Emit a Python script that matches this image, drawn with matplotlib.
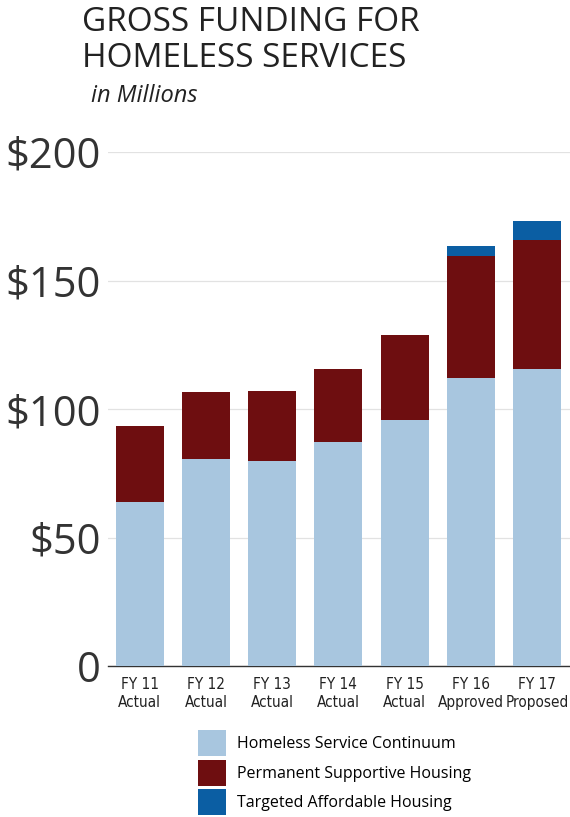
import numpy as np
import matplotlib.pyplot as plt
from matplotlib.patches import Patch

years = ["FY 11\nActual", "FY 12\nActual", "FY 13\nActual", "FY 14\nActual",
         "FY 15\nActual", "FY 16\nApproved", "FY 17\nProposed"]
continuum = [64.0, 80.7, 79.8, 87.3, 95.6, 112.2, 115.6]
supportive = [29.2, 25.8, 27.2, 28.3, 33.2, 47.3, 50.2]
affordable = [0, 0, 0, 0, 0, 4.0, 7.2]
series = ["Homeless Service Continuum", "Permanent Supportive Housing",
          "Targeted Affordable Housing"]
colors = ["#a8c6df", "#6e0e10", "#0b5ea3"]
yticks = [0, 50, 100, 150, 200]
ytick_labels = ["0", "$50", "$100", "$150", "$200"]

main_font = ["Open Sans", "DejaVu Sans"]

fig = plt.figure(figsize=(5.7, 8.17), dpi=100)
ax = fig.add_axes([108 / 570, 1 - 666 / 817, 462 / 570, 514 / 817])

x = np.arange(len(years))
w = 0.725
bottom = np.zeros(len(years))
for vals, c in zip([continuum, supportive, affordable], colors):
    ax.bar(x, vals, w, bottom=bottom, color=c, zorder=3)
    bottom += np.array(vals)

ax.set_xlim(-0.48, 6.5)
ax.set_ylim(0, 200)
ax.set_yticks(yticks)
ax.set_yticklabels(ytick_labels, family=main_font, fontsize=30, color="#333333")
ax.set_xticks(x)
ax.set_xticklabels(years, family="DejaVu Sans", stretch="condensed",
                   fontsize=11, color="#222222", linespacing=1.25)
ax.tick_params(axis="y", length=0, pad=5)
ax.tick_params(axis="x", length=0, pad=8)
ax.grid(axis="y", color="#e2e2e2", linewidth=0.9, zorder=0)
for s in ["top", "right", "left"]:
    ax.spines[s].set_visible(False)
ax.spines["bottom"].set_color("#333333")
ax.spines["bottom"].set_linewidth(1.0)

fig.text(82 / 570, 1 - 6 / 817, "GROSS FUNDING FOR\nHOMELESS SERVICES",
         family=main_font, fontsize=24, color="#222222", va="top", ha="left",
         linespacing=1.12)
fig.text(91 / 570, 1 - 84 / 817, "in Millions", family=main_font,
         fontsize=17, style="italic", color="#222222", va="top", ha="left")

handles = [Patch(facecolor=c, edgecolor="none") for c in colors]
fig.legend(handles, series, loc="upper left",
           bbox_to_anchor=(187 / 570, 1 - 719 / 817), frameon=False,
           handlelength=1.75, handleheight=2.13, labelspacing=0.22,
           handletextpad=0.7, borderpad=0.2,
           prop={"family": main_font, "size": 11.5})

fig.savefig("out.png", dpi=100)
